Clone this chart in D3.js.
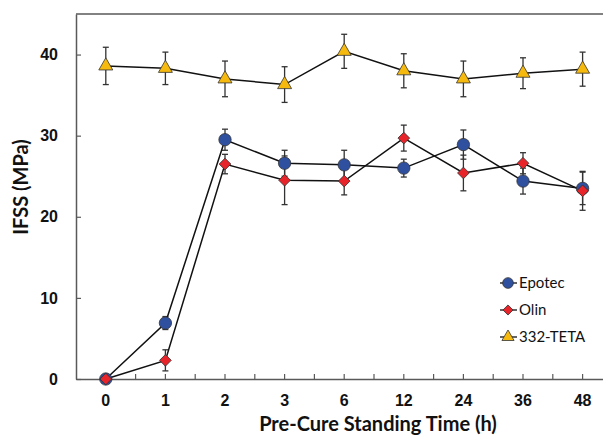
<!DOCTYPE html>
<html>
<head>
<meta charset="utf-8">
<script src="https://cdn.jsdelivr.net/npm/d3@7"></script>
<style>
  body { margin: 0; background: #fff; }
  svg { display: block; font-family: Lato, "Open Sans", sans-serif; }
</style>
</head>
<body>
<svg id="chart" width="603" height="436"></svg>
<script>
// standing times (categorical axis)
const times = ["0", "1", "2", "3", "6", "12", "24", "36", "48"];

const epotec    = [0, 6.9, 29.5, 26.6, 26.4, 26.0, 28.9, 24.4, 23.5];
const epotecErr = [0, 0.8, 1.3, 1.6, 1.8, 1.1, 1.8, 1.6, 2.0];
const olin      = [0, 2.3, 26.5, 24.5, 24.4, 29.7, 25.4, 26.6, 23.2];
const olinErr   = [0, 1.3, 1.2, 3.0, 1.7, 1.6, 2.2, 1.3, 2.4];
const teta      = [38.6, 38.3, 37.0, 36.3, 40.4, 38.0, 37.0, 37.7, 38.2];
const tetaErr   = [2.3, 2.0, 2.2, 2.2, 2.1, 2.1, 2.2, 1.9, 2.1];

const yTicks = [0, 10, 20, 30, 40];

// diamonds are squares turned by 45 degrees
const series = [
  { name: "Epotec", values: epotec, err: epotecErr, color: "#2f4f9f", symbol: d3.symbolCircle, size: 120, rot: 0 },
  { name: "Olin", values: olin, err: olinErr, color: "#e8242b", symbol: d3.symbolSquare, size: 68, rot: 45 },
  { name: "332-TETA", values: teta, err: tetaErr, color: "#f6b90e", symbol: d3.symbolTriangle, size: 85, rot: 0 }
];

const svg = d3.select("#chart");
const plotLeft = 76, plotTop = 14, plotBottom = 379;
const step = 59.6;

const x = d3.scaleBand().domain(times).range([plotLeft, plotLeft + step * times.length]);
const y = d3.scaleLinear().domain([0, 45]).range([plotBottom, plotTop]);
const cx = t => x(t) + x.bandwidth() / 2;

const axisColor = "#595959";

// frame
svg.append("line").attr("x1", plotLeft).attr("x2", 603).attr("y1", plotTop).attr("y2", plotTop)
  .attr("stroke", axisColor).attr("stroke-width", 1.5);

// y axis (ticks inside)
const yAxis = svg.append("g").attr("transform", `translate(${plotLeft},0)`)
  .call(d3.axisLeft(y).tickValues(yTicks).tickSizeInner(-5).tickSizeOuter(0).tickPadding(18));
yAxis.select(".domain").attr("stroke", axisColor).attr("stroke-width", 1.5);
yAxis.selectAll(".tick line").attr("stroke", axisColor).attr("stroke-width", 1.2);
yAxis.selectAll("text").attr("font-size", 16).attr("font-weight", "bold").attr("fill", "#111");

// x axis
const xAxis = svg.append("g").attr("transform", `translate(0,${plotBottom})`)
  .call(d3.axisBottom(x).tickSize(0).tickPadding(16));
xAxis.select(".domain").attr("stroke", axisColor).attr("stroke-width", 1.5);
xAxis.selectAll("text").attr("font-size", 16).attr("font-weight", "bold").attr("fill", "#111");

// x minor ticks at half-steps pointing up
const halfTicks = d3.range(1, times.length * 2).map(i => plotLeft + i * step / 2);
svg.append("g").selectAll("line").data(halfTicks).join("line")
  .attr("x1", d => d).attr("x2", d => d)
  .attr("y1", plotBottom).attr("y2", plotBottom - 5)
  .attr("stroke", axisColor).attr("stroke-width", 1.2);

// axis titles
svg.append("text").attr("x", 378).attr("y", 431).attr("text-anchor", "middle")
  .attr("font-size", 20).attr("font-weight", "bold").attr("fill", "#111")
  .text("Pre-Cure Standing Time (h)");
svg.append("text").attr("transform", "translate(28,187) rotate(-90)").attr("text-anchor", "middle")
  .attr("font-size", 20).attr("font-weight", "bold").attr("fill", "#111")
  .text("IFSS (MPa)");

const line = d3.line().x((d, i) => cx(times[i])).y(d => y(d));

series.forEach(s => {
  const g = svg.append("g");
  // error bars
  const eb = g.selectAll(".err").data(s.values.map((v, i) => ({ v, e: s.err[i], t: times[i] })))
    .join("g").filter(d => d.e > 0);
  eb.append("line").attr("x1", d => cx(d.t)).attr("x2", d => cx(d.t))
    .attr("y1", d => y(d.v - d.e)).attr("y2", d => y(d.v + d.e))
    .attr("stroke", "#333").attr("stroke-width", 1.3);
  [-1, 1].forEach(sign => {
    eb.append("line").attr("x1", d => cx(d.t) - 3).attr("x2", d => cx(d.t) + 3)
      .attr("y1", d => y(d.v + sign * d.e)).attr("y2", d => y(d.v + sign * d.e))
      .attr("stroke", "#333").attr("stroke-width", 1.3);
  });
  // line
  g.append("path").datum(s.values).attr("d", line)
    .attr("fill", "none").attr("stroke", "#111").attr("stroke-width", 1.5);
});

series.forEach(s => {
  svg.append("g").selectAll("path").data(s.values).join("path")
    .attr("transform", (d, i) => `translate(${cx(times[i])},${y(d)}) rotate(${s.rot})`)
    .attr("d", d3.symbol().type(s.symbol).size(s.size))
    .attr("fill", s.color).attr("stroke", "#333").attr("stroke-width", 0.8);
});

// legend
const legend = svg.append("g").attr("transform", "translate(500,283)");
series.forEach((s, i) => {
  const row = legend.append("g").attr("transform", `translate(0,${i * 27})`);
  row.append("line").attr("x1", 0).attr("x2", 17).attr("stroke", "#111").attr("stroke-width", 1.3);
  row.append("path").attr("transform", `translate(8,0) rotate(${s.rot})`)
    .attr("d", d3.symbol().type(s.symbol).size(s.size * 0.75))
    .attr("fill", s.color).attr("stroke", "#333").attr("stroke-width", 0.8);
  row.append("text").attr("x", 19).attr("y", 0).attr("dy", "0.35em")
    .attr("font-size", 15).attr("fill", "#111").text(s.name);
});
</script>
</body>
</html>
